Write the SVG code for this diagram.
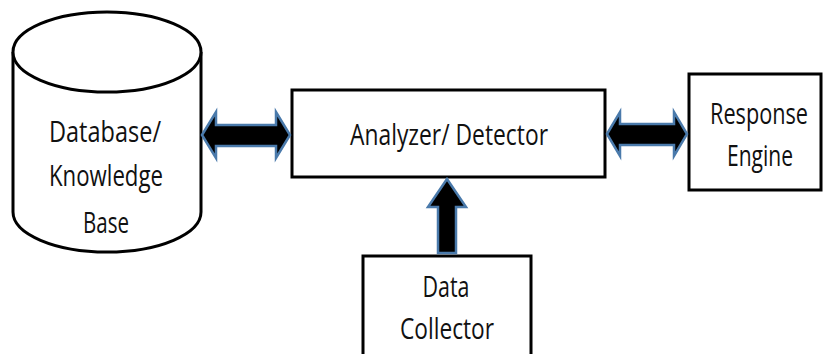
<svg xmlns="http://www.w3.org/2000/svg" width="825" height="354" viewBox="0 0 825 354">
<style>
.box{fill:#fff;stroke:#000;stroke-width:3}
.t{font-family:"Open Sans","Liberation Sans",sans-serif;font-size:30px;fill:#111;text-anchor:middle}
.arr{fill:#000;stroke:#4a7aab;stroke-width:2.5;stroke-linejoin:miter}
</style>
<rect width="825" height="354" fill="#fff"/>
<g id="database">
<path class="box" d="M13,52 V212 A94,40 0 0 0 201,212 V52"/>
<ellipse class="box" cx="107" cy="52" rx="94" ry="40"/>
<text class="t" x="105" y="142" textLength="112" lengthAdjust="spacingAndGlyphs">Database/</text>
<text class="t" x="106" y="186" textLength="114" lengthAdjust="spacingAndGlyphs">Knowledge</text>
<text class="t" x="106" y="233" textLength="46" lengthAdjust="spacingAndGlyphs">Base</text>
</g>
<g id="analyzer">
<rect class="box" x="292" y="90" width="313" height="87"/>
<text class="t" x="449" y="145" textLength="198" lengthAdjust="spacingAndGlyphs">Analyzer/ Detector</text>
</g>
<g id="response">
<rect class="box" x="689" y="74" width="132" height="116"/>
<text class="t" x="759" y="124" textLength="98" lengthAdjust="spacingAndGlyphs">Response</text>
<text class="t" x="760" y="166" textLength="66" lengthAdjust="spacingAndGlyphs">Engine</text>
</g>
<g id="collector">
<rect class="box" x="363" y="256" width="168" height="110"/>
<text class="t" x="446" y="297" textLength="47" lengthAdjust="spacingAndGlyphs">Data</text>
<text class="t" x="447" y="339" textLength="94" lengthAdjust="spacingAndGlyphs">Collector</text>
</g>
<g id="connectors">
<path class="arr" d="M202,135 L216,112 V125 H276 V112 L290,135 L276,158 V146 H216 V158 Z"/>
<path class="arr" d="M607,134 L620,112 V124 H674 V112 L687,134 L674,156 V145 H620 V156 Z"/>
<path class="arr" d="M447,179 L466,207 H456 V253 H438 V207 H428 Z"/>
</g>
</svg>
